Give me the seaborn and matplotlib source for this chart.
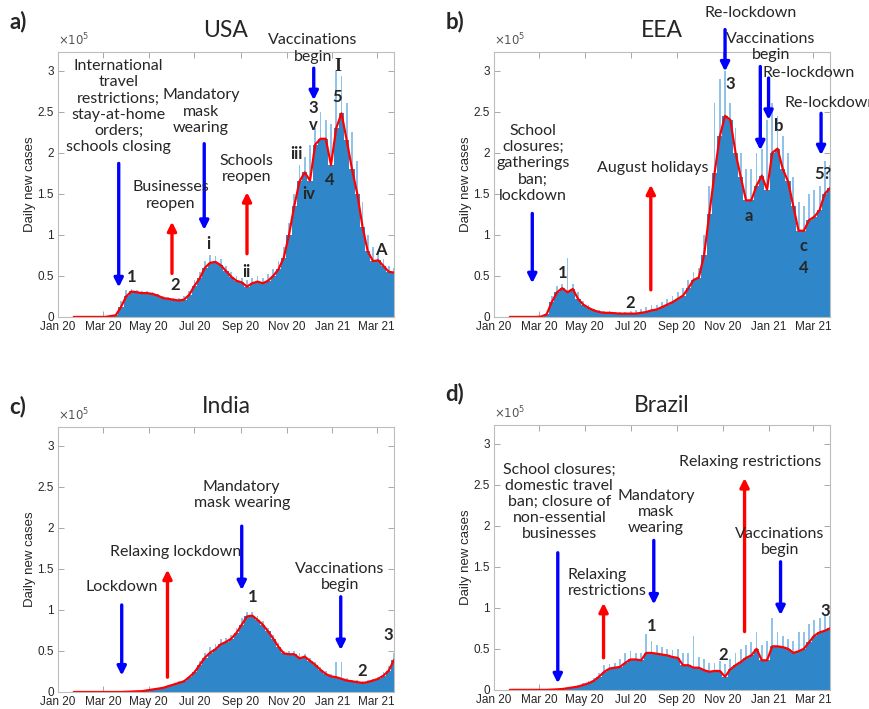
import pandas as pd
import matplotlib
matplotlib.use("Agg")
import matplotlib.pyplot as plt
import matplotlib.dates as mdates
import seaborn as sns

# weekly values (x 1e5 daily new cases), weeks from 22 Jan 2020
usa_smooth = [0, 0, 0, 0, 0, 0, 0, 0.01, 0.02, 0.12, 0.25, 0.31, 0.30, 0.29, 0.29, 0.28,
              0.26, 0.23, 0.22, 0.21, 0.20, 0.21, 0.27, 0.38, 0.47, 0.60, 0.66, 0.67, 0.63,
              0.56, 0.49, 0.44, 0.42, 0.37, 0.41, 0.43, 0.41, 0.44, 0.50, 0.58, 0.72, 1.00,
              1.35, 1.65, 1.76, 1.66, 2.10, 2.17, 2.17, 1.85, 2.30, 2.48, 2.15, 1.80, 1.50,
              1.10, 0.80, 0.68, 0.69, 0.62, 0.55, 0.54]
usa_peak = [0, 0, 0, 0, 0, 0, 0, 0.01, 0.04, 0.20, 0.33, 0.34, 0.33, 0.32, 0.31, 0.30,
            0.28, 0.25, 0.24, 0.23, 0.23, 0.25, 0.32, 0.45, 0.55, 0.68, 0.75, 0.74, 0.70,
            0.62, 0.55, 0.50, 0.48, 0.45, 0.48, 0.50, 0.48, 0.52, 0.58, 0.68, 0.85, 1.15,
            1.50, 1.85, 1.95, 2.10, 2.30, 2.50, 2.40, 2.35, 3.00, 2.93, 2.60, 2.25, 1.90,
            1.40, 1.00, 0.85, 0.78, 0.70, 0.62, 0.60]
eea_smooth = [0, 0, 0, 0, 0, 0, 0.005, 0.03, 0.18, 0.30, 0.35, 0.30, 0.34, 0.22, 0.15, 0.11,
              0.08, 0.06, 0.05, 0.05, 0.045, 0.04, 0.04, 0.04, 0.04, 0.05, 0.06, 0.08, 0.09,
              0.12, 0.15, 0.18, 0.22, 0.26, 0.35, 0.45, 0.48, 0.75, 1.25, 1.75, 2.20, 2.45,
              2.40, 2.00, 1.70, 1.42, 1.42, 1.60, 1.72, 1.55, 2.00, 2.05, 1.80, 1.65, 1.35,
              1.05, 1.05, 1.18, 1.22, 1.30, 1.50, 1.57]
eea_peak = [0, 0, 0, 0, 0, 0, 0.01, 0.05, 0.25, 0.38, 0.40, 0.72, 0.40, 0.30, 0.20, 0.15,
            0.10, 0.08, 0.07, 0.07, 0.06, 0.06, 0.06, 0.07, 0.08, 0.10, 0.12, 0.14, 0.15,
            0.18, 0.22, 0.25, 0.30, 0.35, 0.45, 0.55, 0.60, 1.00, 1.60, 2.60, 2.90, 3.00,
            2.60, 2.30, 2.00, 1.80, 1.80, 2.00, 2.05, 2.40, 2.60, 2.45, 2.20, 2.00, 1.70,
            1.40, 1.35, 1.50, 1.55, 1.60, 1.90, 1.85]
india_smooth = [0, 0, 0, 0, 0, 0, 0, 0, 0, 0, 0.003, 0.005, 0.008, 0.01, 0.02, 0.03,
                0.04, 0.05, 0.07, 0.09, 0.11, 0.13, 0.18, 0.24, 0.33, 0.42, 0.48, 0.52, 0.58,
                0.61, 0.65, 0.72, 0.82, 0.92, 0.93, 0.88, 0.82, 0.74, 0.65, 0.55, 0.47, 0.46,
                0.46, 0.41, 0.43, 0.38, 0.33, 0.27, 0.22, 0.19, 0.18, 0.16, 0.14, 0.13, 0.12,
                0.11, 0.12, 0.14, 0.16, 0.20, 0.26, 0.39]
india_peak = [0, 0, 0, 0, 0, 0, 0, 0, 0, 0, 0.004, 0.006, 0.01, 0.015, 0.025, 0.035,
              0.05, 0.06, 0.08, 0.10, 0.13, 0.15, 0.20, 0.27, 0.38, 0.48, 0.55, 0.58, 0.64,
              0.66, 0.70, 0.78, 0.90, 0.97, 0.97, 0.92, 0.86, 0.78, 0.70, 0.60, 0.50, 0.50,
              0.50, 0.47, 0.46, 0.42, 0.36, 0.30, 0.26, 0.22, 0.37, 0.37, 0.17, 0.15, 0.14,
              0.13, 0.14, 0.16, 0.18, 0.24, 0.32, 0.47]
brazil_smooth = [0, 0, 0, 0, 0, 0, 0, 0, 0.003, 0.006, 0.01, 0.02, 0.03, 0.04, 0.06, 0.08,
                 0.11, 0.16, 0.22, 0.26, 0.27, 0.28, 0.33, 0.37, 0.37, 0.36, 0.45, 0.45, 0.44,
                 0.43, 0.42, 0.40, 0.39, 0.30, 0.30, 0.27, 0.27, 0.24, 0.22, 0.23, 0.23, 0.16,
                 0.25, 0.30, 0.34, 0.39, 0.42, 0.50, 0.36, 0.36, 0.53, 0.53, 0.52, 0.50, 0.45,
                 0.47, 0.50, 0.58, 0.66, 0.70, 0.72, 0.75]
brazil_peak = [0, 0, 0, 0, 0, 0, 0, 0, 0.005, 0.01, 0.015, 0.03, 0.04, 0.06, 0.08, 0.11,
               0.15, 0.20, 0.30, 0.32, 0.33, 0.37, 0.45, 0.47, 0.45, 0.45, 0.68, 0.60, 0.55,
               0.52, 0.50, 0.48, 0.50, 0.45, 0.45, 0.65, 0.40, 0.38, 0.33, 0.33, 0.35, 0.32,
               0.38, 0.45, 0.50, 0.55, 0.58, 0.70, 0.55, 0.60, 0.87, 0.70, 0.65, 0.62, 0.60,
               0.70, 0.70, 0.80, 0.85, 0.88, 0.92, 0.90]

weeks = pd.date_range("2020-01-22", periods=len(usa_smooth), freq="7D")

# annotations: (text, date, y, style)   style: t = plain, l = left aligned, n = bold number
usa_notes = [
    ("International\ntravel\nrestrictions;\nstay-at-home\norders;\nschools closing", "2020-03-22", 2.56, "t"),
    ("Businesses\nreopen", "2020-05-30", 1.48, "t"),
    ("Mandatory\nmask\nwearing", "2020-07-10", 2.50, "t"),
    ("Schools\nreopen", "2020-09-08", 1.80, "t"),
    ("Vaccinations\nbegin", "2020-12-06", 3.27, "t"),
    ("1", "2020-04-08", 0.49, "n"), ("2", "2020-06-05", 0.39, "n"),
    ("i", "2020-07-20", 0.89, "n"), ("ii", "2020-09-08", 0.55, "n"),
    ("iii", "2020-11-14", 1.98, "n"), ("iv", "2020-11-30", 1.50, "n"),
    ("v", "2020-12-07", 2.34, "n"), ("3", "2020-12-06", 2.54, "n"),
    ("4", "2020-12-29", 1.67, "n"), ("5", "2021-01-07", 2.68, "n"),
    ("I", "2021-01-08", 3.05, "s"), ("A", "2021-03-07", 0.82, "n"),
]
usa_arrows = [("2020-03-22", 1.87, 0.36, "b"), ("2020-06-01", 0.53, 1.16, "r"),
              ("2020-07-14", 2.11, 1.06, "b"), ("2020-09-09", 0.77, 1.52, "r"),
              ("2020-12-07", 3.03, 2.64, "b")]

eea_notes = [
    ("School\nclosures;\ngatherings\nban;\nlockdown", "2020-02-22", 1.87, "t"),
    ("August holidays", "2020-07-31", 1.81, "t"),
    ("Re-lockdown", "2020-12-08", 3.70, "t"),
    ("Vaccinations\nbegin", "2021-01-04", 3.29, "t"),
    ("Re-lockdown", "2021-02-23", 2.97, "t"),
    ("Re-lockdown", "2021-01-22", 2.60, "l"),
    ("1", "2020-04-01", 0.54, "n"), ("2", "2020-07-01", 0.17, "n"),
    ("3", "2020-11-11", 2.84, "n"), ("a", "2020-12-06", 1.23, "n"),
    ("b", "2021-01-15", 2.32, "n"), ("c", "2021-02-16", 0.86, "n"),
    ("4", "2021-02-17", 0.59, "n"), ("5?", "2021-03-15", 1.74, "n"),
]
eea_arrows = [("2020-02-21", 1.26, 0.41, "b"), ("2020-07-28", 0.33, 1.61, "r"),
              ("2020-11-04", 3.50, 2.99, "b"), ("2020-12-21", 3.05, 2.03, "b"),
              ("2021-01-01", 2.91, 2.40, "b"), ("2021-03-12", 2.48, 1.97, "b")]

india_notes = [
    ("Lockdown", "2020-03-26", 1.28, "t"),
    ("Relaxing lockdown", "2020-06-06", 1.70, "t"),
    ("Mandatory\nmask wearing", "2020-09-02", 2.40, "t"),
    ("Vaccinations\nbegin", "2021-01-11", 1.40, "t"),
    ("1", "2020-09-16", 1.16, "n"), ("2", "2021-02-09", 0.26, "n"),
    ("3", "2021-03-16", 0.69, "n"),
]
india_arrows = [("2020-03-26", 1.06, 0.20, "b"), ("2020-05-26", 0.18, 1.49, "r"),
                ("2020-09-02", 2.02, 1.24, "b"), ("2021-01-12", 1.16, 0.51, "b")]

brazil_notes = [
    ("School closures;\ndomestic travel\nban; closure of\nnon-essential\nbusinesses", "2020-03-28", 2.29, "t"),
    ("Relaxing\nrestrictions", "2020-04-08", 1.30, "l"),
    ("Mandatory\nmask\nwearing", "2020-08-04", 2.17, "t"),
    ("Relaxing restrictions", "2020-12-07", 2.78, "t"),
    ("Vaccinations\nbegin", "2021-01-16", 1.80, "t"),
    ("1", "2020-07-29", 0.78, "n"), ("2", "2020-11-01", 0.43, "n"),
    ("3", "2021-03-17", 0.96, "n"),
]
brazil_arrows = [("2020-03-26", 1.67, 0.08, "b"), ("2020-05-26", 0.39, 1.06, "r"),
                 ("2020-08-01", 1.82, 1.04, "b"), ("2020-11-30", 0.71, 2.58, "r"),
                 ("2021-01-17", 1.56, 0.91, "b")]

# tag, title, data, notes, axes rect, tag y, title y
panels = [
    ("a)", "USA", usa_smooth, usa_peak, usa_notes, usa_arrows, [0.0667, 0.553, 0.3867, 0.374], 1.072, 1.057),
    ("b)", "EEA", eea_smooth, eea_peak, eea_notes, eea_arrows, [0.5685, 0.553, 0.3867, 0.374], 1.072, 1.057),
    ("c)", "India", india_smooth, india_peak, india_notes, india_arrows, [0.0667, 0.024, 0.3867, 0.374], 1.034, 1.053),
    ("d)", "Brazil", brazil_smooth, brazil_peak, brazil_notes, brazil_arrows, [0.5685, 0.027, 0.3867, 0.374], 1.075, 1.049),
]

sns.set_style("ticks")
plt.rcParams["font.family"] = ["Liberation Sans", "DejaVu Sans"]
TXT = ["Lato", "DejaVu Sans"]
ARROW_COL = {"b": "#0000ff", "r": "#ff0000"}

fig = plt.figure(figsize=(8.69, 7.09), dpi=100)
for tag, name, smooth, peak, notes, arrows, pos, tag_y, title_y in panels:
    ax = fig.add_axes(pos)
    ax.bar(weeks, peak, width=2.5, color="#8fc3ea", linewidth=0)
    ax.bar(weeks, smooth, width=7, color="#2f87c9", linewidth=0)
    sns.lineplot(x=weeks, y=smooth, color="red", lw=1.6, ax=ax)
    ax.set_xlim(pd.Timestamp("2020-01-01"), pd.Timestamp("2021-03-24"))
    ax.set_ylim(0, 3.23)
    ax.set_yticks([0, 0.5, 1, 1.5, 2, 2.5, 3])
    ax.set_yticklabels(["0", "0.5", "1", "1.5", "2", "2.5", "3"])
    ax.xaxis.set_major_locator(mdates.MonthLocator(bymonth=[1, 3, 5, 7, 9, 11]))
    ax.xaxis.set_major_formatter(mdates.DateFormatter("%b %y"))
    ax.tick_params(direction="in", top=True, right=True, length=4, width=0.6,
                   color="#9a9a9a", labelcolor="#262626", labelsize=8.5, pad=3)
    for s in ax.spines.values():
        s.set_visible(True)
        s.set_color("#bdbdbd")
        s.set_linewidth(0.8)
    ax.set_ylabel("Daily new cases", fontsize=9.5, color="#262626", labelpad=1)
    ax.set_xlabel("")
    ax.text(0.0, 1.012, r"$\times10^5$", transform=ax.transAxes, fontsize=8.5,
            color="#555555", ha="left", va="bottom")
    ax.text(0.5, title_y, name, transform=ax.transAxes, ha="center", va="baseline",
            fontsize=16.5, family=TXT)
    ax.text(-0.145, tag_y, tag, transform=ax.transAxes, ha="left", va="bottom",
            fontsize=16, fontweight="bold", family=TXT)
    for x, tail, head, c in arrows:
        d = pd.Timestamp(x)
        ax.annotate("", xy=(d, head), xytext=(d, tail), annotation_clip=False,
                    arrowprops=dict(arrowstyle="-|>", color=ARROW_COL[c], lw=2.4,
                                    mutation_scale=13, shrinkA=0, shrinkB=0))
    for txt, x, y, kind in notes:
        d = pd.Timestamp(x)
        if kind == "n":
            ax.text(d, y, txt, ha="center", va="center", fontsize=12,
                    fontweight="bold", family=TXT, clip_on=False)
        elif kind == "s":
            ax.text(d, y, txt, ha="center", va="center", fontsize=13,
                    fontweight="bold", family=["Liberation Serif", "DejaVu Serif"], clip_on=False)
        else:
            ax.text(d, y, txt, ha="left" if kind == "l" else "center", va="center",
                    fontsize=11.5, family=TXT, linespacing=1.2, clip_on=False)

fig.savefig("out.png", dpi=100, facecolor="white")
